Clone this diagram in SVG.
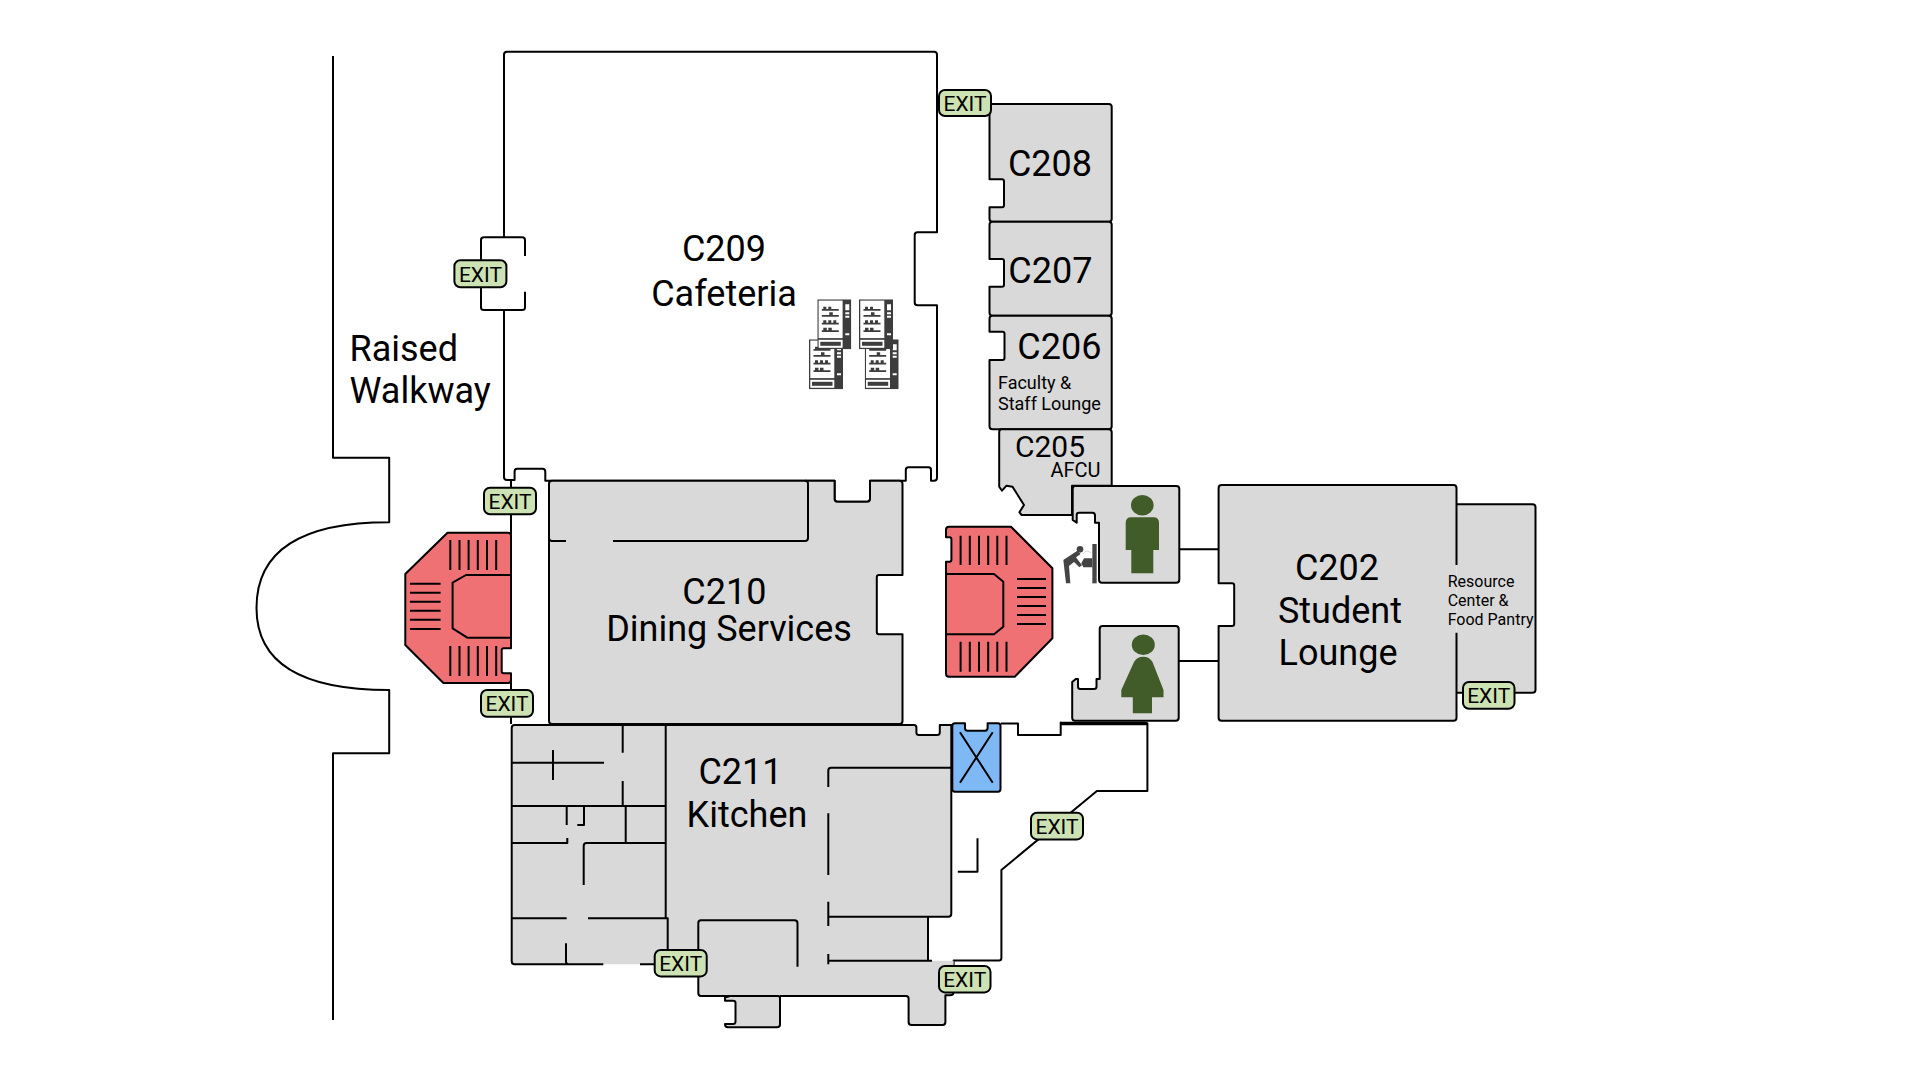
<svg xmlns="http://www.w3.org/2000/svg" xmlns:xlink="http://www.w3.org/1999/xlink" width="1921" height="1081" viewBox="0 0 1921 1081">
<style>
text{font-family:Roboto,"Liberation Sans",sans-serif;fill:#000}
.w{fill:none;stroke:#000;stroke-width:2;stroke-linejoin:round;stroke-linecap:butt}
.r{fill:#d9d9d9;stroke:#000;stroke-width:2;stroke-linejoin:round}
.f{fill:#d9d9d9;stroke:none}
.s{fill:#f07174;stroke:#000;stroke-width:2;stroke-linejoin:round}
.b{fill:#000;font-size:36px}
.c{text-anchor:middle}
.e{fill:#cde2b2;stroke:#000;stroke-width:2}
.t{font-size:21px;text-anchor:middle}
.g{fill:#415c29}
.k{fill:#444}
</style>
<defs>
<symbol id="vend" viewBox="0 0 34 50" width="34" height="50">
<rect width="34" height="50" fill="#3d3d3d"/>
<rect x="1.3" y="1.3" width="24" height="37.5" fill="#fff"/>
<rect x="1.3" y="40.5" width="24" height="8" fill="#fff"/>
<rect x="3" y="42.5" width="20.5" height="4" fill="#3d3d3d"/>
<path d="M28 5h4v6h-4zM28 13h4v2h-4zM28 16.500h4v2h-4zM28 34h4v2h-4z" fill="#fff"/>
<path d="M4.500 9.700h17v1.800h-17zM6 7.500h3v2.500h-3zM11 7.500h3v2.500h-3zM4.500 15.700h17v1.800h-17zM12 13h3.500v3h-3.500zM4.500 23.500h17v1.800h-17zM6 21h3v2.500h-3zM11 21h3v2.500h-3zM16 21h3v2.500h-3zM4.500 31h17v1.800h-17zM6 28.500h3.500v2.500h-3.500zM11 28.500h3.500v2.500h-3.500z" fill="#3d3d3d"/>
</symbol>
</defs>
<rect width="1921" height="1081" fill="#fff"/>

<g id="walls">
<path class="w" d="M333 56V457.700H389.200V522.300C310 522.300 256.500 545 256.500 608C256.500 668 310 690 389.200 690V753.300H333V1020"/>
<path class="w" d="M504 237.300V54.700Q504 51.700 507 51.700H934Q937 51.700 937 54.700V232.300H917.500Q914.700 232.300 914.700 235V302.500Q914.700 305.300 917.500 305.300H937V477.700Q937 480.700 934 480.700H931V470Q931 467.300 928.500 467.300H908.500Q905.800 467.300 905.800 470V480.700H870V499Q870 501.700 867 501.700H837.500Q834.600 501.700 834.600 499V480.700H545.300V471.500Q545.300 468.700 542.500 468.700H517Q514.600 468.700 514.600 471.500V480H507Q504 480 504 477V310"/>
<path class="w" d="M504 237.300H522Q525 237.300 525 240V256M525 291.700V307.500Q525 310 522 310H484Q481 310 481 307.500V240Q481 237.300 484 237.300H504"/>
<path class="w" d="M511 480V648.300M511 673.300V724"/>
<path class="w" d="M1060.700 721.700V735H1018V723.500H1001M1060.700 723.500H1147.400V791H1096.900L1001.400 870V958Q1001.400 960.500 999 960.500H953.600V965"/>
<path class="w" style="stroke-width:3.500" d="M1060.700 723.500H1147.400"/>
<path class="w" d="M977.500 838.300V871.700H957.800"/>
</g>

<g id="c208"><path class="r" d="M992 104H1108.700Q1111.700 104 1111.700 107V218.700Q1111.700 221.700 1108.700 221.700H992.500Q989.500 221.700 989.500 218.700V207.300H1002Q1004 207.300 1004 205V181.500Q1004 179.300 1002 179.300H989.500V107Q989.500 104 992 104Z"/><text class="b c" x="1050" y="176">C208</text></g>
<g id="c207"><path class="r" d="M992.500 221.700H1108.700Q1111.700 221.700 1111.700 224.700V312.700Q1111.700 315.700 1108.700 315.700H992.500Q989.500 315.700 989.500 312.700V286.700H1002Q1004 286.700 1004 284.500V261Q1004 259 1002 259H989.500V224.700Q989.500 221.700 992.500 221.700Z"/><text class="b c" x="1050.400" y="283">C207</text></g>
<g id="c206"><path class="r" d="M992.500 315.700H1108.700Q1111.700 315.700 1111.700 318.700V426.300Q1111.700 429.300 1108.700 429.300H992.500Q989.500 429.300 989.500 426.300V360H1002.500Q1004.500 360 1004.500 358V333.700Q1004.500 331.700 1002.500 331.700H989.500V318.700Q989.500 315.700 992.500 315.700Z"/><text class="b c" x="1059.400" y="359">C206</text><text x="998" y="389.300" font-size="18">Faculty &amp;</text><text x="998" y="410" font-size="18">Staff Lounge</text></g>
<g id="c205"><path class="r" d="M1001.500 429.300H1108.700Q1111.700 429.300 1111.700 432.300V485.700H1072V515H1021.700L1019.400 512.300L1024 505L1012.500 486.700L1006.500 485.700L1002 490.700L999.200 486.700V432.300Q999.200 429.300 1001.500 429.300Z"/><text class="c" x="1050" y="457" font-size="30">C205</text><text x="1050.500" y="477" font-size="20">AFCU</text></g>

<g id="men"><path class="r" d="M1075 486H1176.300Q1179.300 486 1179.300 489V579.700Q1179.300 582.700 1176.300 582.700H1102Q1099 582.700 1099 579.700V522.700H1095V515.500Q1095 512.700 1092.500 512.700H1079Q1076.700 512.700 1076.700 515V522.700L1072.700 520V489Q1072.700 486 1075 486Z"/><ellipse class="g" cx="1142.300" cy="505.300" rx="11.300" ry="10.300"/><path class="g" d="M1125.700 523Q1125.700 517.300 1131 517.300H1153.500Q1159 517.300 1159 523V550H1153.300V573.300H1131.300V550H1125.700Z"/></g>
<g id="fountain"><g transform="translate(1060 480) scale(.3333)"><rect class="k" x="97" y="192" width="13" height="118"/><circle class="k" cx="60" cy="208" r="10"/><path class="k" d="M52 212L10 240L18 310H31L27 258L42 246L58 262L66 256L48 232L62 222Z"/><path class="k" d="M72 235H97V262H70L64 250Z"/><path d="M68 222Q78 208 92 218" fill="none" stroke="#999" stroke-width="2" stroke-dasharray="3 2"/></g></g>
<g id="women"><path class="r" d="M1102.500 626H1175.700Q1178.700 626 1178.700 629V717.700Q1178.700 720.700 1175.700 720.700H1075Q1072.200 720.700 1072.200 717.700V682L1075.800 679H1078V686.500Q1078 689 1080.500 689H1094Q1096.500 689 1096.500 686.500V679H1099.700V629Q1099.700 626 1102.500 626Z"/><ellipse class="g" cx="1143.300" cy="644.700" rx="11.500" ry="10.300"/><path class="g" d="M1143.300 656.700Q1137 656.700 1134 662L1121.300 690V697.300H1132.800V713.300H1152V697.300H1163.500V690L1152.500 662Q1149.500 656.700 1143.300 656.700Z"/></g>

<g id="connectors"><path class="w" d="M1179.300 549.300H1218.600M1178.700 661H1218.600"/></g>

<g id="resource"><path class="f" d="M1456.500 504.300H1535.500V692.700H1456.500Z"/><path class="w" d="M1456.500 504.300H1532.500Q1535.500 504.300 1535.500 507.300V689.700Q1535.500 692.700 1532.500 692.700H1456.500"/></g>
<g id="c202"><path class="f" d="M1218.600 488Q1218.600 485 1221.600 485H1453.500Q1456.500 485 1456.500 488V717.700Q1456.500 720.700 1453.500 720.700H1221.600Q1218.600 720.700 1218.600 717.700V626H1232Q1234.200 626 1234.200 624V585.500Q1234.200 583.300 1232 583.300H1218.600Z"/><path class="w" d="M1456.500 565V488Q1456.500 485 1453.500 485H1221.600Q1218.600 485 1218.600 488V583.300H1232Q1234.200 583.300 1234.200 585.500V624Q1234.200 626 1232 626H1218.600V717.700Q1218.600 720.700 1221.600 720.700H1453.500Q1456.500 720.700 1456.500 717.700V632.700"/><text class="b c" x="1337" y="580">C202</text><text class="b c" x="1340" y="622.700">Student</text><text class="b c" x="1338" y="664.700">Lounge</text><text x="1447.700" y="586.700" font-size="16">Resource</text><text x="1447.700" y="606" font-size="16">Center &amp;</text><text x="1447.700" y="625" font-size="16">Food Pantry</text></g>

<g id="c209"><text class="b c" x="724" y="261">C209</text><text class="b c" x="724" y="305.700">Cafeteria</text></g>
<g id="walkway"><text class="b" x="349.500" y="361">Raised</text><text class="b" x="349.500" y="403">Walkway</text></g>

<g id="vending"><use xlink:href="#vend" href="#vend" x="809" y="339.300"/><use xlink:href="#vend" href="#vend" x="864.700" y="339.300"/><use xlink:href="#vend" href="#vend" x="817.300" y="299.300"/><use xlink:href="#vend" href="#vend" x="859" y="299.300"/></g>

<g id="c210"><path class="r" d="M552 480.700H834.600V499Q834.600 501.700 837.500 501.700H867Q870 501.700 870 499V480.700H899.500Q902.500 480.700 902.500 483.700V575H879Q876.800 575 876.800 577V632Q876.800 634.300 879 634.300H902.500V721Q902.500 724 899.500 724H552Q549 724 549 721V483.700Q549 480.700 552 480.700Z"/><path class="w" d="M805 480.700Q808 480.700 808 483.700V538Q808 541 805 541H613M566 541H552Q549 541 549 538"/><text class="b c" x="724.400" y="604">C210</text><text class="b c" x="729" y="641">Dining Services</text></g>

<g id="stairsW"><path class="s" d="M447.500 532.700H508Q511 532.700 511 535.700V648.300H503.700Q501.700 648.300 501.700 650.300V671.300Q501.700 673.300 503.700 673.300H511V680Q511 683 508 683H443.400L405.300 645V574Z"/><path class="w" d="M511 575H466L452.600 582.700V628.300L467.300 637.700H511M450.300 540V570M459.500 540V570M468.600 540V570M477.800 540V570M487 540V570M496.200 540V570M450.300 646V676M459.500 646V676M468.600 646V676M477.800 646V676M487 646V676M496.200 646V676M409.900 583.700H440.600M409.900 592.700H440.600M409.900 601.700H440.600M409.900 610.700H440.600M409.900 619.700H440.600M409.900 629H440.600"/></g>
<g id="stairsE"><path class="s" d="M949 526.700H1011L1052.400 568.300V638.300L1014.800 676.700H949Q946 676.700 946 673.700V561.700H949.400Q951.400 561.700 951.400 559.700V539.300Q951.400 537.300 949.400 537.300H946V529.700Q946 526.700 949 526.700Z"/><path class="w" d="M946 574H994L1003.300 581.700V626.700L994 634.300H946M960.600 535.700V565M969.800 535.700V565M979 535.700V565M988.200 535.700V565M997.300 535.700V565M1006.500 535.700V565M960.600 641.700V671.700M969.800 641.700V671.700M979 641.700V671.700M988.200 641.700V671.700M997.300 641.700V671.700M1006.500 641.700V671.700M1017 579H1046M1017 588H1046M1017 597H1046M1017 606H1046M1017 615H1046M1017 624H1046"/></g>

<g id="c211">
<path class="f" d="M511.700 725H916.400V735H939.800V725H951.300V916.700H928V960.700H953.600V995.300H945.400V1025H908.600V996H780V1027.300H725V1024H735.500V1000.700H725V996H698.300V964.300H511.700Z"/>
<path class="w" d="M511.700 961V728Q511.700 725 514.700 725H914Q916.400 725 916.400 727.500V732.500Q916.400 735 919 735H937Q939.800 735 939.800 732.500V725H953"/>
<path class="w" d="M665.700 725V918.300H667.700V950M511.700 961Q511.700 964.300 514.700 964.300H603.300M640 964.300H660M511.700 762.700H604M553 750V780M622.700 725V752.700M622.700 781V806M511.700 806H665.700M566.700 806V825M584 806V825H577.300M625.700 806V843M511.700 843H567.300V838M665.700 843H586.500Q583.700 843 583.700 846V885M511.700 918.300H566.700M588 918.300H665.700M566 943.300V961.500Q566 964.300 568.500 964.300"/>
<path class="w" d="M828.300 787V770.700Q828.300 767.700 831 767.700H951.300M828.300 813.300V875M828.300 901.700V926M828.300 954V964.300M951.300 725V913.700Q951.300 916.700 948.300 916.700H828.300M928 916.700V960.700M828.300 960.700H932"/>
<path class="w" d="M797.500 966.700V923.300Q797.500 920.300 794.500 920.300H701Q698.300 920.300 698.300 923V993Q698.300 996 701 996H778Q780 996 780 998V1024.500Q780 1027.300 777 1027.300H728Q725 1027.300 725 1024H733Q735.500 1024 735.500 1021.500V1003Q735.500 1000.700 733 1000.700H725V997.500L730 996M780 996H906Q908.600 996 908.600 998.500V1022Q908.600 1025 911.500 1025H942.500Q945.400 1025 945.400 1022V995.300H950Q953.600 995.300 953.600 992"/>
<text class="b c" x="740.500" y="783.500">C211</text><text class="b c" x="747" y="827">Kitchen</text>
</g>

<g id="elevator"><path d="M955 723.300H965V728Q965 730.700 967.500 730.700H985Q987.600 730.700 987.600 728V723.300H998Q1000.500 723.300 1000.500 726V789Q1000.500 791.700 998 791.700H955Q952.300 791.700 952.300 789V726Q952.300 723.300 955 723.300Z" fill="#7fb9f5" stroke="#000" stroke-width="2" stroke-linejoin="round"/><path class="w" d="M960 732.300L992.700 782.700M992.700 732.300L960 782.700"/></g>

<g id="exit1"><rect class="e" x="454.400" y="260.300" width="52" height="27" rx="6"/><text class="t" x="480.400" y="281.700">EXIT</text></g>
<g id="exit2"><rect class="e" x="939" y="90" width="52" height="26" rx="6"/><text class="t" x="965" y="111">EXIT</text></g>
<g id="exit3"><rect class="e" x="484" y="487.700" width="52" height="26.500" rx="6"/><text class="t" x="510" y="508.700">EXIT</text></g>
<g id="exit4"><rect class="e" x="481" y="690" width="52" height="26.700" rx="6"/><text class="t" x="507" y="711">EXIT</text></g>
<g id="exit5"><rect class="e" x="1463" y="682" width="51.500" height="26.700" rx="6"/><text class="t" x="1488.700" y="703">EXIT</text></g>
<g id="exit6"><rect class="e" x="1031" y="812.700" width="52" height="26.700" rx="6"/><text class="t" x="1057" y="833.700">EXIT</text></g>
<g id="exit7"><rect class="e" x="654.700" y="950" width="52" height="26.400" rx="6"/><text class="t" x="680.700" y="971">EXIT</text></g>
<g id="exit8"><rect class="e" x="939" y="966" width="51.500" height="26.400" rx="6"/><text class="t" x="964.700" y="987">EXIT</text></g>
</svg>
